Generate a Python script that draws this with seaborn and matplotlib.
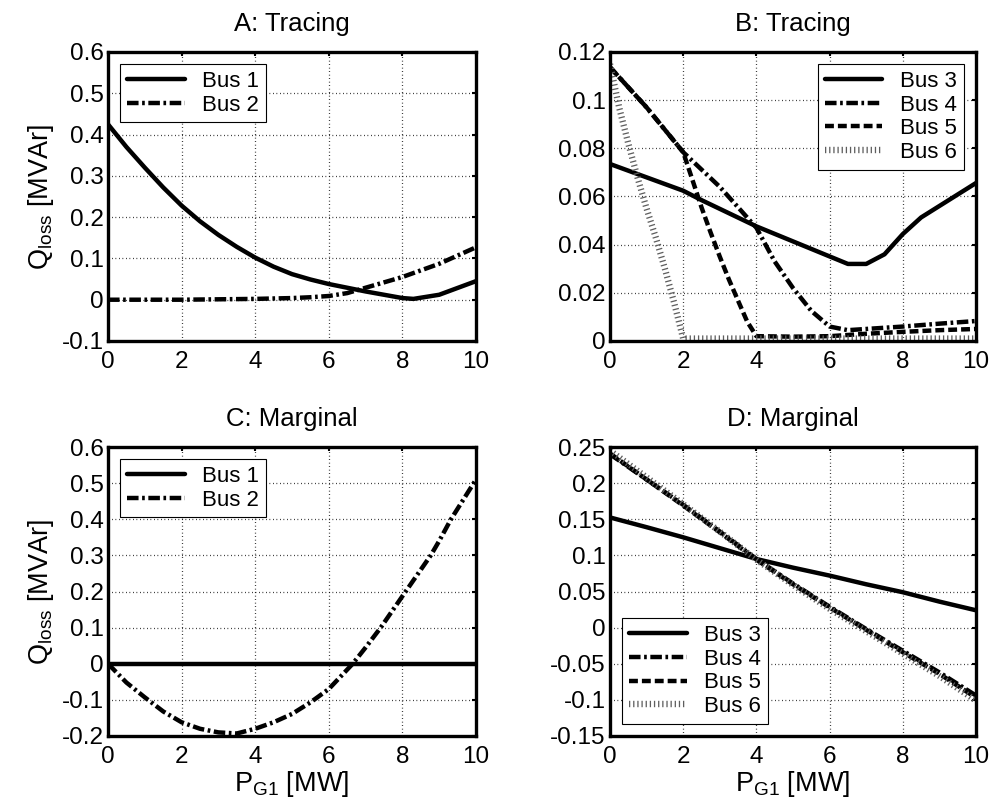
import numpy as np
import pandas as pd
import matplotlib
matplotlib.use("Agg")
import matplotlib.pyplot as plt
from matplotlib.ticker import FuncFormatter
import seaborn as sns

sns.set_style("white")
plt.rcParams["font.family"] = ["Liberation Sans", "DejaVu Sans"]
plt.rcParams["mathtext.fontset"] = "custom"
plt.rcParams["mathtext.rm"] = "Liberation Sans"
plt.rcParams["mathtext.it"] = "Liberation Sans"
plt.rcParams["mathtext.default"] = "regular"
plt.rcParams["axes.unicode_minus"] = False
for key in ("text.color", "axes.labelcolor", "xtick.color", "ytick.color"):
    plt.rcParams[key] = "black"

# ---- Panel A: tracing, buses 1-2 ----
a_x = [0, 0.5, 1, 1.5, 2, 2.5, 3, 3.5, 4, 4.5, 5, 5.5, 6, 7, 8, 8.3, 9, 10]
a_bus1 = [0.425, 0.37, 0.32, 0.272, 0.228, 0.19, 0.157, 0.128, 0.102, 0.08, 0.062,
          0.049, 0.038, 0.02, 0.004, 0.002, 0.012, 0.045]
a_x2 = [0, 1, 2, 3, 4, 5, 5.5, 6, 6.5, 7, 8, 9, 10]
a_bus2 = [0.0, 0.0, 0.0, 0.001, 0.002, 0.004, 0.006, 0.009, 0.016, 0.029, 0.055, 0.087, 0.127]

# ---- Panel B: tracing, buses 3-6 ----
b_x3 = [0, 2, 2.5, 4, 6.5, 7, 7.5, 8, 8.5, 10]
b_bus3 = [0.0735, 0.0624, 0.0585, 0.0476, 0.032, 0.032, 0.036, 0.0444, 0.0513, 0.0656]
b_x4 = [0, 1, 2, 3, 4, 4.5, 5, 5.5, 6, 6.5, 7, 8, 9, 10]
b_bus4 = [0.1137, 0.097, 0.0784, 0.064, 0.047, 0.033, 0.022, 0.0125, 0.006, 0.0045,
          0.005, 0.006, 0.0072, 0.0083]
b_x5 = [0, 1, 2, 2.25, 2.5, 2.75, 3, 3.25, 3.5, 3.75, 4, 5, 6, 7, 8, 9, 10]
b_bus5 = [0.1137, 0.097, 0.0784, 0.067, 0.0555, 0.045, 0.035, 0.0255, 0.0167, 0.008,
          0.002, 0.0018, 0.002, 0.003, 0.0038, 0.0045, 0.005]
b_x6 = [0, 0.25, 0.5, 0.75, 1, 1.25, 1.5, 1.75, 2, 4, 6, 8, 10]
b_bus6 = [0.115, 0.097, 0.082, 0.068, 0.055, 0.043, 0.03, 0.016, 0.001, 0.001, 0.001,
          0.001, 0.001]

# ---- Panel C: marginal, buses 1-2 ----
c_x = [0, 0.5, 1, 1.5, 2, 2.5, 3, 3.5, 4, 4.5, 5, 5.5, 6, 6.65, 7, 7.41, 8, 8.77, 9,
       9.32, 10]
c_bus1 = [0.0] * len(c_x)
c_bus2 = [0.0, -0.052, -0.093, -0.132, -0.162, -0.18, -0.19, -0.193, -0.18, -0.162,
          -0.139, -0.107, -0.07, 0.0, 0.045, 0.1, 0.187, 0.3, 0.34, 0.4, 0.51]

# ---- Panel D: marginal, buses 3-6 ----
d_x = [0, 1, 2, 3, 4, 5, 6, 7, 8, 9, 10]
d_bus3 = [0.1525, 0.139, 0.125, 0.11, 0.095, 0.083, 0.072, 0.06, 0.049, 0.036, 0.024]
d_bus4 = [0.24, 0.205, 0.17, 0.133, 0.095, 0.061, 0.029, -0.002, -0.032, -0.062, -0.094]
d_bus5 = [0.241, 0.205, 0.169, 0.132, 0.094, 0.06, 0.028, -0.003, -0.034, -0.064, -0.097]
d_bus6 = [0.245, 0.208, 0.171, 0.133, 0.094, 0.059, 0.026, -0.005, -0.036, -0.067, -0.101]

LW = 3.2
styles = {
    "solid": dict(color="black", linestyle="-", lw=LW),
    "dashdot": dict(color="black", linestyle=(0, (2.6, 0.8, 0.6, 0.8)), lw=LW),
    "dashed": dict(color="black", linestyle=(0, (2.0, 0.9)), lw=LW),
    "bars": dict(color="#5e5e5e", linestyle=(0, (0.2, 0.45)), lw=4.6,
                 dash_capstyle="butt"),
}

fig = plt.figure(figsize=(9.94, 8.10), dpi=100)
W, H = 994, 810


def add_axes(left, top, right, bottom):
    return fig.add_axes([left / W, 1 - bottom / H, (right - left) / W, (bottom - top) / H])


axA = add_axes(108, 52, 476, 341)
axB = add_axes(610, 52, 976, 341)
axC = add_axes(108, 447, 476, 736)
axD = add_axes(610, 447, 976, 736)


def draw(ax, x, y, style, label):
    df = pd.DataFrame({"x": x, "y": y})
    sns.lineplot(data=df, x="x", y="y", ax=ax, label=label, sort=False, **styles[style])


draw(axA, a_x, a_bus1, "solid", "Bus 1")
draw(axA, a_x2, a_bus2, "dashdot", "Bus 2")

draw(axB, b_x3, b_bus3, "solid", "Bus 3")
draw(axB, b_x4, b_bus4, "dashdot", "Bus 4")
draw(axB, b_x5, b_bus5, "dashed", "Bus 5")
draw(axB, b_x6, b_bus6, "bars", "Bus 6")

draw(axC, c_x, c_bus1, "solid", "Bus 1")
draw(axC, c_x, c_bus2, "dashdot", "Bus 2")

draw(axD, d_x, d_bus3, "solid", "Bus 3")
draw(axD, d_x, d_bus4, "dashdot", "Bus 4")
draw(axD, d_x, d_bus5, "dashed", "Bus 5")
draw(axD, d_x, d_bus6, "bars", "Bus 6")

fmt = FuncFormatter(lambda v, p: "{:g}".format(round(v, 4)))

panels = [
    (axA, "A: Tracing", (-0.1, 0.6), np.arange(-0.1, 0.61, 0.1), "upper left"),
    (axB, "B: Tracing", (0, 0.12), np.arange(0, 0.121, 0.02), "upper right"),
    (axC, "C: Marginal", (-0.2, 0.6), np.arange(-0.2, 0.61, 0.1), "upper left"),
    (axD, "D: Marginal", (-0.15, 0.25), np.arange(-0.15, 0.251, 0.05), "lower left"),
]

for ax, title, ylim, yt, loc in panels:
    ax.set_xlim(0, 10)
    ax.set_ylim(*ylim)
    ax.set_xticks(np.arange(0, 11, 2))
    ax.set_yticks(yt)
    ax.yaxis.set_major_formatter(fmt)
    ax.xaxis.set_major_formatter(fmt)
    ax.grid(True, color="black", linestyle=(0, (0.6, 2.2)), lw=0.9)
    ax.tick_params(direction="in", length=3, width=1.5, labelsize=17.5,
                   top=True, right=True, colors="black")
    ax.tick_params(axis="x", pad=7)
    ax.tick_params(axis="y", pad=3)
    for sp in ax.spines.values():
        sp.set_linewidth(2.4)
        sp.set_color("black")
    ax.set_title(title, fontsize=18.5, pad=15, color="black")
    ax.set_xlabel("")
    ax.set_ylabel("")
    leg = ax.legend(loc=loc, fontsize=16, frameon=True, fancybox=False,
                    edgecolor="black", framealpha=1, handlelength=2.6,
                    borderpad=0.3, labelspacing=0.12, handletextpad=0.8,
                    borderaxespad=0.55)
    leg.get_frame().set_linewidth(0.8)
    for t in leg.get_texts():
        t.set_color("black")

for ax in (axA, axC):
    ax.set_ylabel("$Q_{loss}$ [MVAr]", fontsize=19.5, labelpad=4)
for ax in (axC, axD):
    ax.set_xlabel("$P_{G1}$ [MW]", fontsize=19.5, labelpad=1)

fig.savefig("out.png", dpi=100)
